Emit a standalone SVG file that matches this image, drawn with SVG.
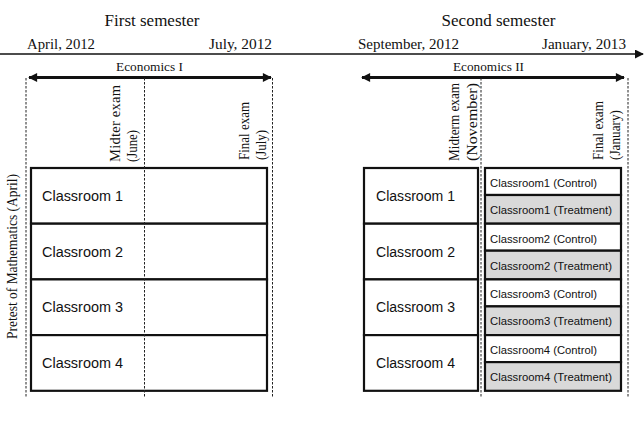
<svg xmlns="http://www.w3.org/2000/svg" width="644" height="426" viewBox="0 0 644 426">
<style>
.serif{font-family:"Liberation Serif","Times New Roman",serif;fill:#111}
.sans{font-family:"Liberation Sans",Arial,sans-serif;fill:#111}
.box{fill:#fff;stroke:#111;stroke-width:2.2}
.tr{fill:#d9d9d9;stroke:#111;stroke-width:2.2}
.dash{stroke:#222;stroke-width:1;stroke-dasharray:2.5 1.5;fill:none}
.big{font-size:17px}
.date{font-size:14.5px}
.eco{font-size:13px}
.rot{font-size:14.5px}
.cls{font-size:14px}
.sub{font-size:11px}
</style>
<defs>
<marker id="ah" viewBox="0 0 10 10" refX="9" refY="5" markerWidth="10" markerHeight="9" markerUnits="userSpaceOnUse" orient="auto-start-reverse">
<path d="M0,0 L10,5 L0,10 Z" fill="#111"/>
</marker>
<marker id="ahs" viewBox="0 0 10 10" refX="9" refY="5" markerWidth="9" markerHeight="9" markerUnits="userSpaceOnUse" orient="auto">
<path d="M0,0 L10,5 L0,10 Z" fill="#111"/>
</marker>
</defs>

<g id="titles">
<text class="serif big" x="152" y="26" text-anchor="middle">First semester</text>
<text class="serif big" x="498.5" y="26" text-anchor="middle">Second semester</text>
<text class="serif date" x="27" y="49" textLength="68" lengthAdjust="spacingAndGlyphs">April, 2012</text>
<text class="serif date" x="209" y="49" textLength="63" lengthAdjust="spacingAndGlyphs">July, 2012</text>
<text class="serif date" x="358" y="49" textLength="101" lengthAdjust="spacingAndGlyphs">September, 2012</text>
<text class="serif date" x="542" y="49" textLength="84" lengthAdjust="spacingAndGlyphs">January, 2013</text>
<text class="serif eco" x="116" y="71" textLength="67" lengthAdjust="spacingAndGlyphs">Economics I</text>
<text class="serif eco" x="453" y="71" textLength="71" lengthAdjust="spacingAndGlyphs">Economics II</text>
</g>

<g id="connectors">
<line x1="0" y1="54" x2="643" y2="54" stroke="#111" stroke-width="1.5" marker-end="url(#ahs)"/>
<line x1="29" y1="77.5" x2="271" y2="77.5" stroke="#111" stroke-width="3" marker-start="url(#ah)" marker-end="url(#ah)"/>
<line x1="362" y1="77.5" x2="624" y2="77.5" stroke="#111" stroke-width="3" marker-start="url(#ah)" marker-end="url(#ah)"/>
</g>

<g id="table-first">
<rect class="box" x="31" y="168" width="236" height="55.7"/>
<rect class="box" x="31" y="223.7" width="236" height="55.7"/>
<rect class="box" x="31" y="279.4" width="236" height="55.7"/>
<rect class="box" x="31" y="335.1" width="236" height="55.7"/>
<text class="sans cls" x="42" y="201" textLength="81" lengthAdjust="spacingAndGlyphs">Classroom 1</text>
<text class="sans cls" x="42" y="256.7" textLength="81" lengthAdjust="spacingAndGlyphs">Classroom 2</text>
<text class="sans cls" x="42" y="312.4" textLength="81" lengthAdjust="spacingAndGlyphs">Classroom 3</text>
<text class="sans cls" x="42" y="368.1" textLength="81" lengthAdjust="spacingAndGlyphs">Classroom 4</text>
</g>

<g id="table-second">
<rect class="box" x="364" y="168" width="114" height="55.7"/>
<rect class="box" x="364" y="223.7" width="114" height="55.7"/>
<rect class="box" x="364" y="279.4" width="114" height="55.7"/>
<rect class="box" x="364" y="335.1" width="114" height="55.7"/>
<text class="sans cls" x="376" y="201" textLength="79" lengthAdjust="spacingAndGlyphs">Classroom 1</text>
<text class="sans cls" x="376" y="256.7" textLength="79" lengthAdjust="spacingAndGlyphs">Classroom 2</text>
<text class="sans cls" x="376" y="312.4" textLength="79" lengthAdjust="spacingAndGlyphs">Classroom 3</text>
<text class="sans cls" x="376" y="368.1" textLength="79" lengthAdjust="spacingAndGlyphs">Classroom 4</text>
</g>

<g id="groups-second">
<rect class="box" x="485" y="168" width="136" height="27"/>
<rect class="tr" x="485" y="195" width="136" height="28.7"/>
<rect class="box" x="485" y="223.7" width="136" height="27"/>
<rect class="tr" x="485" y="250.7" width="136" height="28.7"/>
<rect class="box" x="485" y="279.4" width="136" height="27"/>
<rect class="tr" x="485" y="306.4" width="136" height="28.7"/>
<rect class="box" x="485" y="335.1" width="136" height="27"/>
<rect class="tr" x="485" y="362.1" width="136" height="28.7"/>
<text class="sans sub" x="490" y="187" textLength="107" lengthAdjust="spacingAndGlyphs">Classroom1 (Control)</text>
<text class="sans sub" x="490" y="214" textLength="122" lengthAdjust="spacingAndGlyphs">Classroom1 (Treatment)</text>
<text class="sans sub" x="490" y="242.7" textLength="107" lengthAdjust="spacingAndGlyphs">Classroom2 (Control)</text>
<text class="sans sub" x="490" y="269.7" textLength="122" lengthAdjust="spacingAndGlyphs">Classroom2 (Treatment)</text>
<text class="sans sub" x="490" y="298.4" textLength="107" lengthAdjust="spacingAndGlyphs">Classroom3 (Control)</text>
<text class="sans sub" x="490" y="325.4" textLength="122" lengthAdjust="spacingAndGlyphs">Classroom3 (Treatment)</text>
<text class="sans sub" x="490" y="354.1" textLength="107" lengthAdjust="spacingAndGlyphs">Classroom4 (Control)</text>
<text class="sans sub" x="490" y="381.1" textLength="122" lengthAdjust="spacingAndGlyphs">Classroom4 (Treatment)</text>
</g>

<g id="dashed-lines">
<line class="dash" x1="26" y1="78" x2="26" y2="398"/>
<line class="dash" x1="144.5" y1="78" x2="144.5" y2="398"/>
<line class="dash" x1="272.5" y1="78" x2="272.5" y2="398"/>
<line class="dash" x1="481" y1="78" x2="481" y2="398"/>
<line class="dash" x1="628" y1="78" x2="628" y2="398"/>
</g>

<g id="exam-labels">
<text class="serif rot" transform="translate(16.5,339) rotate(-90)" textLength="165" lengthAdjust="spacingAndGlyphs">Pretest of Mathematics (April)</text>
<text class="serif rot" transform="translate(119.5,162) rotate(-90)" textLength="77" lengthAdjust="spacing">Midter exam</text>
<text class="serif rot" transform="translate(136.5,162) rotate(-90)" textLength="32" lengthAdjust="spacingAndGlyphs">(June)</text>
<text class="serif rot" transform="translate(248.5,160) rotate(-90)" textLength="58" lengthAdjust="spacingAndGlyphs">Final exam</text>
<text class="serif rot" transform="translate(265.5,160) rotate(-90)" textLength="30" lengthAdjust="spacingAndGlyphs">(July)</text>
<text class="serif rot" transform="translate(458.5,161) rotate(-90)" textLength="78" lengthAdjust="spacingAndGlyphs">Midterm exam</text>
<text class="serif rot" transform="translate(476.5,161) rotate(-90)" textLength="78" lengthAdjust="spacingAndGlyphs">(November)</text>
<text class="serif rot" transform="translate(602.5,160) rotate(-90)" textLength="59" lengthAdjust="spacingAndGlyphs">Final exam</text>
<text class="serif rot" transform="translate(619.5,160) rotate(-90)" textLength="50" lengthAdjust="spacingAndGlyphs">(January)</text>
</g>
</svg>
